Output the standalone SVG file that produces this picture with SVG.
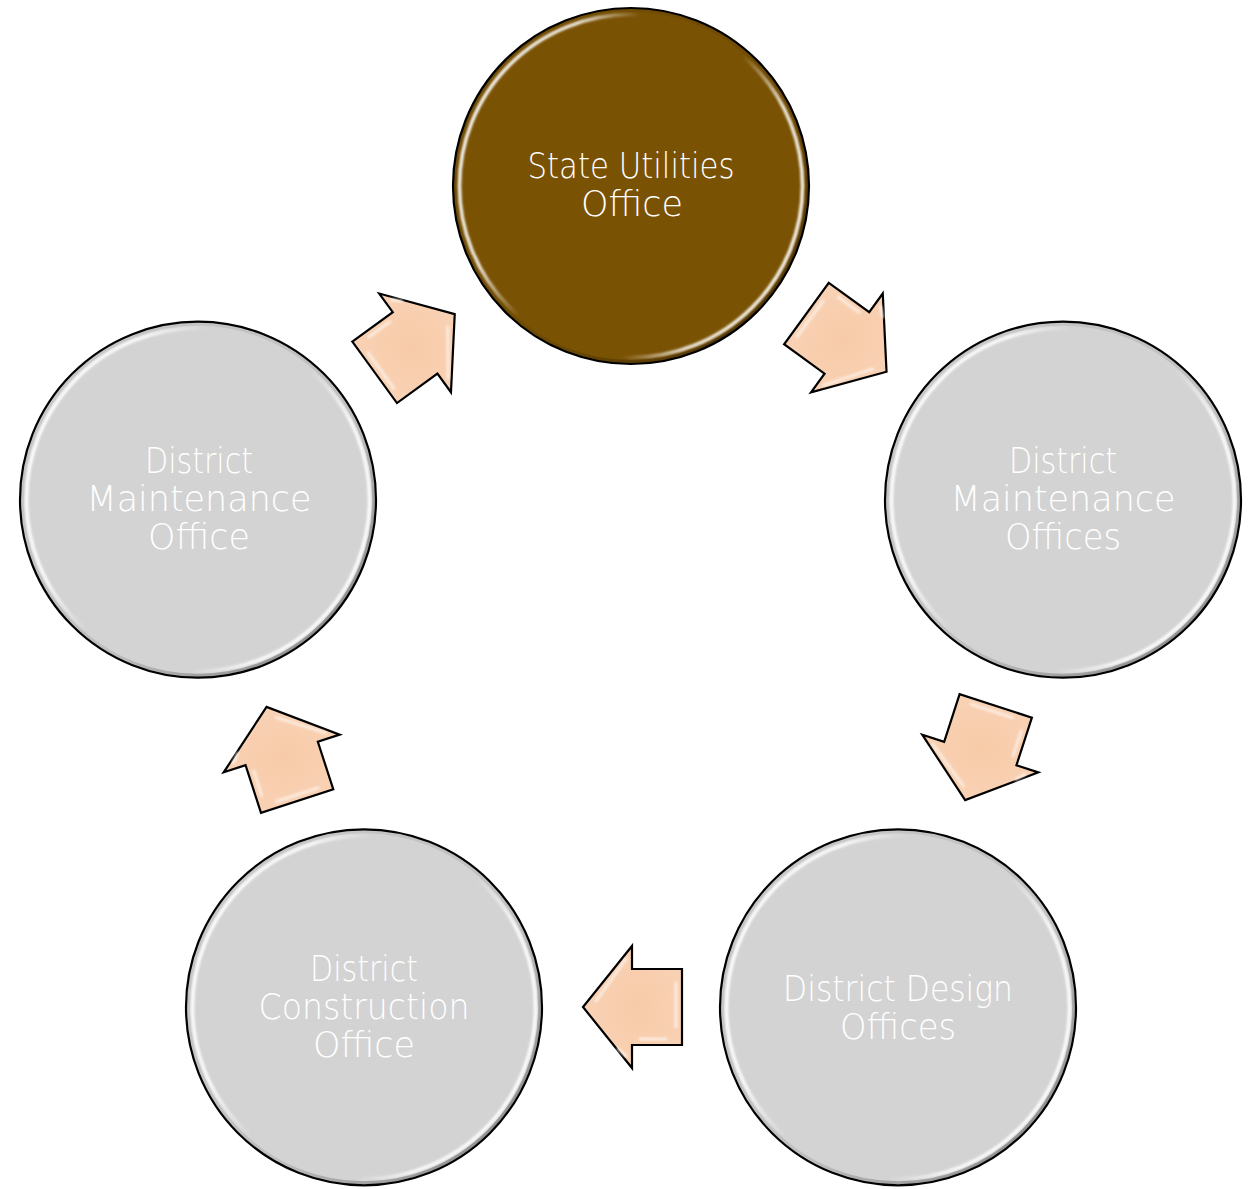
<svg xmlns="http://www.w3.org/2000/svg" width="1251" height="1189" viewBox="0 0 1251 1189">
<style>
.disc{stroke:#000;stroke-width:2.2}
.gray{fill:#D3D3D3}
.brown{fill:#7A5204}
.hl{fill:none;stroke:url(#ring);stroke-width:3.5;filter:url(#soft)}
.shade{fill:none;stroke:url(#dark);stroke-width:3}
.lbl{font-family:"DejaVu Sans","Liberation Sans",sans-serif;font-size:35px;font-weight:200;fill:#FFFFFF;text-anchor:middle}
.arrow{fill:url(#peach);stroke:#000;stroke-width:2.2;stroke-linejoin:miter}
.bev{fill:none;stroke:#FFFFFF;stroke-opacity:0.6;stroke-width:3;stroke-linecap:round;filter:url(#soft)}
</style>
<defs>
<filter id="soft" x="-10%" y="-10%" width="120%" height="120%">
<feGaussianBlur stdDeviation="0.8"/>
</filter>
<linearGradient id="ring" x1="0" y1="0.3" x2="1" y2="0.7">
<stop offset="0" stop-color="#fff" stop-opacity="0.95"/>
<stop offset="0.2" stop-color="#fff" stop-opacity="0.85"/>
<stop offset="0.35" stop-color="#fff" stop-opacity="0"/>
<stop offset="0.65" stop-color="#fff" stop-opacity="0"/>
<stop offset="0.8" stop-color="#fff" stop-opacity="0.85"/>
<stop offset="1" stop-color="#fff" stop-opacity="0.95"/>
</linearGradient>
<linearGradient id="dark" x1="0" y1="0" x2="1" y2="1">
<stop offset="0" stop-color="#000" stop-opacity="0.05"/>
<stop offset="0.6" stop-color="#000" stop-opacity="0.1"/>
<stop offset="1" stop-color="#000" stop-opacity="0.45"/>
</linearGradient>
<radialGradient id="peach" cx="0.45" cy="0.5" r="0.6">
<stop offset="0" stop-color="#F7CBA8"/>
<stop offset="1" stop-color="#F9D2B6"/>
</radialGradient>
<g id="arr">
<polygon class="arrow" points="-50,-38 0,-38 0,-61 49,0 0,61 0,38 -50,38"/>
<path class="bev" d="M-44,-20 L-44,24 M6,48 L36,6 M6,-49 L14,-42 M-34,-32 L-8,-32"/>
</g>
</defs>
<rect width="1251" height="1189" fill="#FFFFFF"/>
<g id="connectors">
<use href="#arr" transform="translate(846.9,342.9) rotate(36)"/>
<use href="#arr" transform="translate(980.3,753.5) rotate(108)"/>
<use href="#arr" transform="translate(632,1007) rotate(180)"/>
<use href="#arr" transform="translate(281.7,753.5) rotate(252)"/>
<use href="#arr" transform="translate(415.1,342.9) rotate(324)"/>
</g>
<g id="node-state">
<circle class="disc brown" cx="631" cy="186" r="178"/>
<circle class="shade" cx="631" cy="186" r="175.5"/>
<circle class="hl" cx="631" cy="186" r="171.5"/>
<text class="lbl" x="631" y="178" textLength="207" lengthAdjust="spacingAndGlyphs">State Utilities</text>
<text class="lbl" x="632" y="216" textLength="102" lengthAdjust="spacingAndGlyphs">Office</text>
</g>
<g id="node-dmo-right">
<circle class="disc gray" cx="1063" cy="499.7" r="178"/>
<circle class="shade" cx="1063" cy="499.7" r="175.5"/>
<circle class="hl" cx="1063" cy="499.7" r="171.5"/>
<text class="lbl" x="1063" y="473" textLength="108" lengthAdjust="spacingAndGlyphs">District</text>
<text class="lbl" x="1063" y="511" textLength="225" lengthAdjust="spacingAndGlyphs">Maintenance</text>
<text class="lbl" x="1063" y="549" textLength="116" lengthAdjust="spacingAndGlyphs">Offices</text>
</g>
<g id="node-design">
<circle class="disc gray" cx="898" cy="1007.3" r="178"/>
<circle class="shade" cx="898" cy="1007.3" r="175.5"/>
<circle class="hl" cx="898" cy="1007.3" r="171.5"/>
<text class="lbl" x="898" y="1001" textLength="230" lengthAdjust="spacingAndGlyphs">District Design</text>
<text class="lbl" x="898" y="1039" textLength="116" lengthAdjust="spacingAndGlyphs">Offices</text>
</g>
<g id="node-construction">
<circle class="disc gray" cx="364" cy="1007.3" r="178"/>
<circle class="shade" cx="364" cy="1007.3" r="175.5"/>
<circle class="hl" cx="364" cy="1007.3" r="171.5"/>
<text class="lbl" x="364" y="981" textLength="108" lengthAdjust="spacingAndGlyphs">District</text>
<text class="lbl" x="364" y="1019" textLength="211" lengthAdjust="spacingAndGlyphs">Construction</text>
<text class="lbl" x="364" y="1057" textLength="102" lengthAdjust="spacingAndGlyphs">Office</text>
</g>
<g id="node-dmo-left">
<circle class="disc gray" cx="198" cy="499.7" r="178"/>
<circle class="shade" cx="198" cy="499.7" r="175.5"/>
<circle class="hl" cx="198" cy="499.7" r="171.5"/>
<text class="lbl" x="199" y="473" textLength="108" lengthAdjust="spacingAndGlyphs">District</text>
<text class="lbl" x="199" y="511" textLength="225" lengthAdjust="spacingAndGlyphs">Maintenance</text>
<text class="lbl" x="199" y="549" textLength="102" lengthAdjust="spacingAndGlyphs">Office</text>
</g>
</svg>
